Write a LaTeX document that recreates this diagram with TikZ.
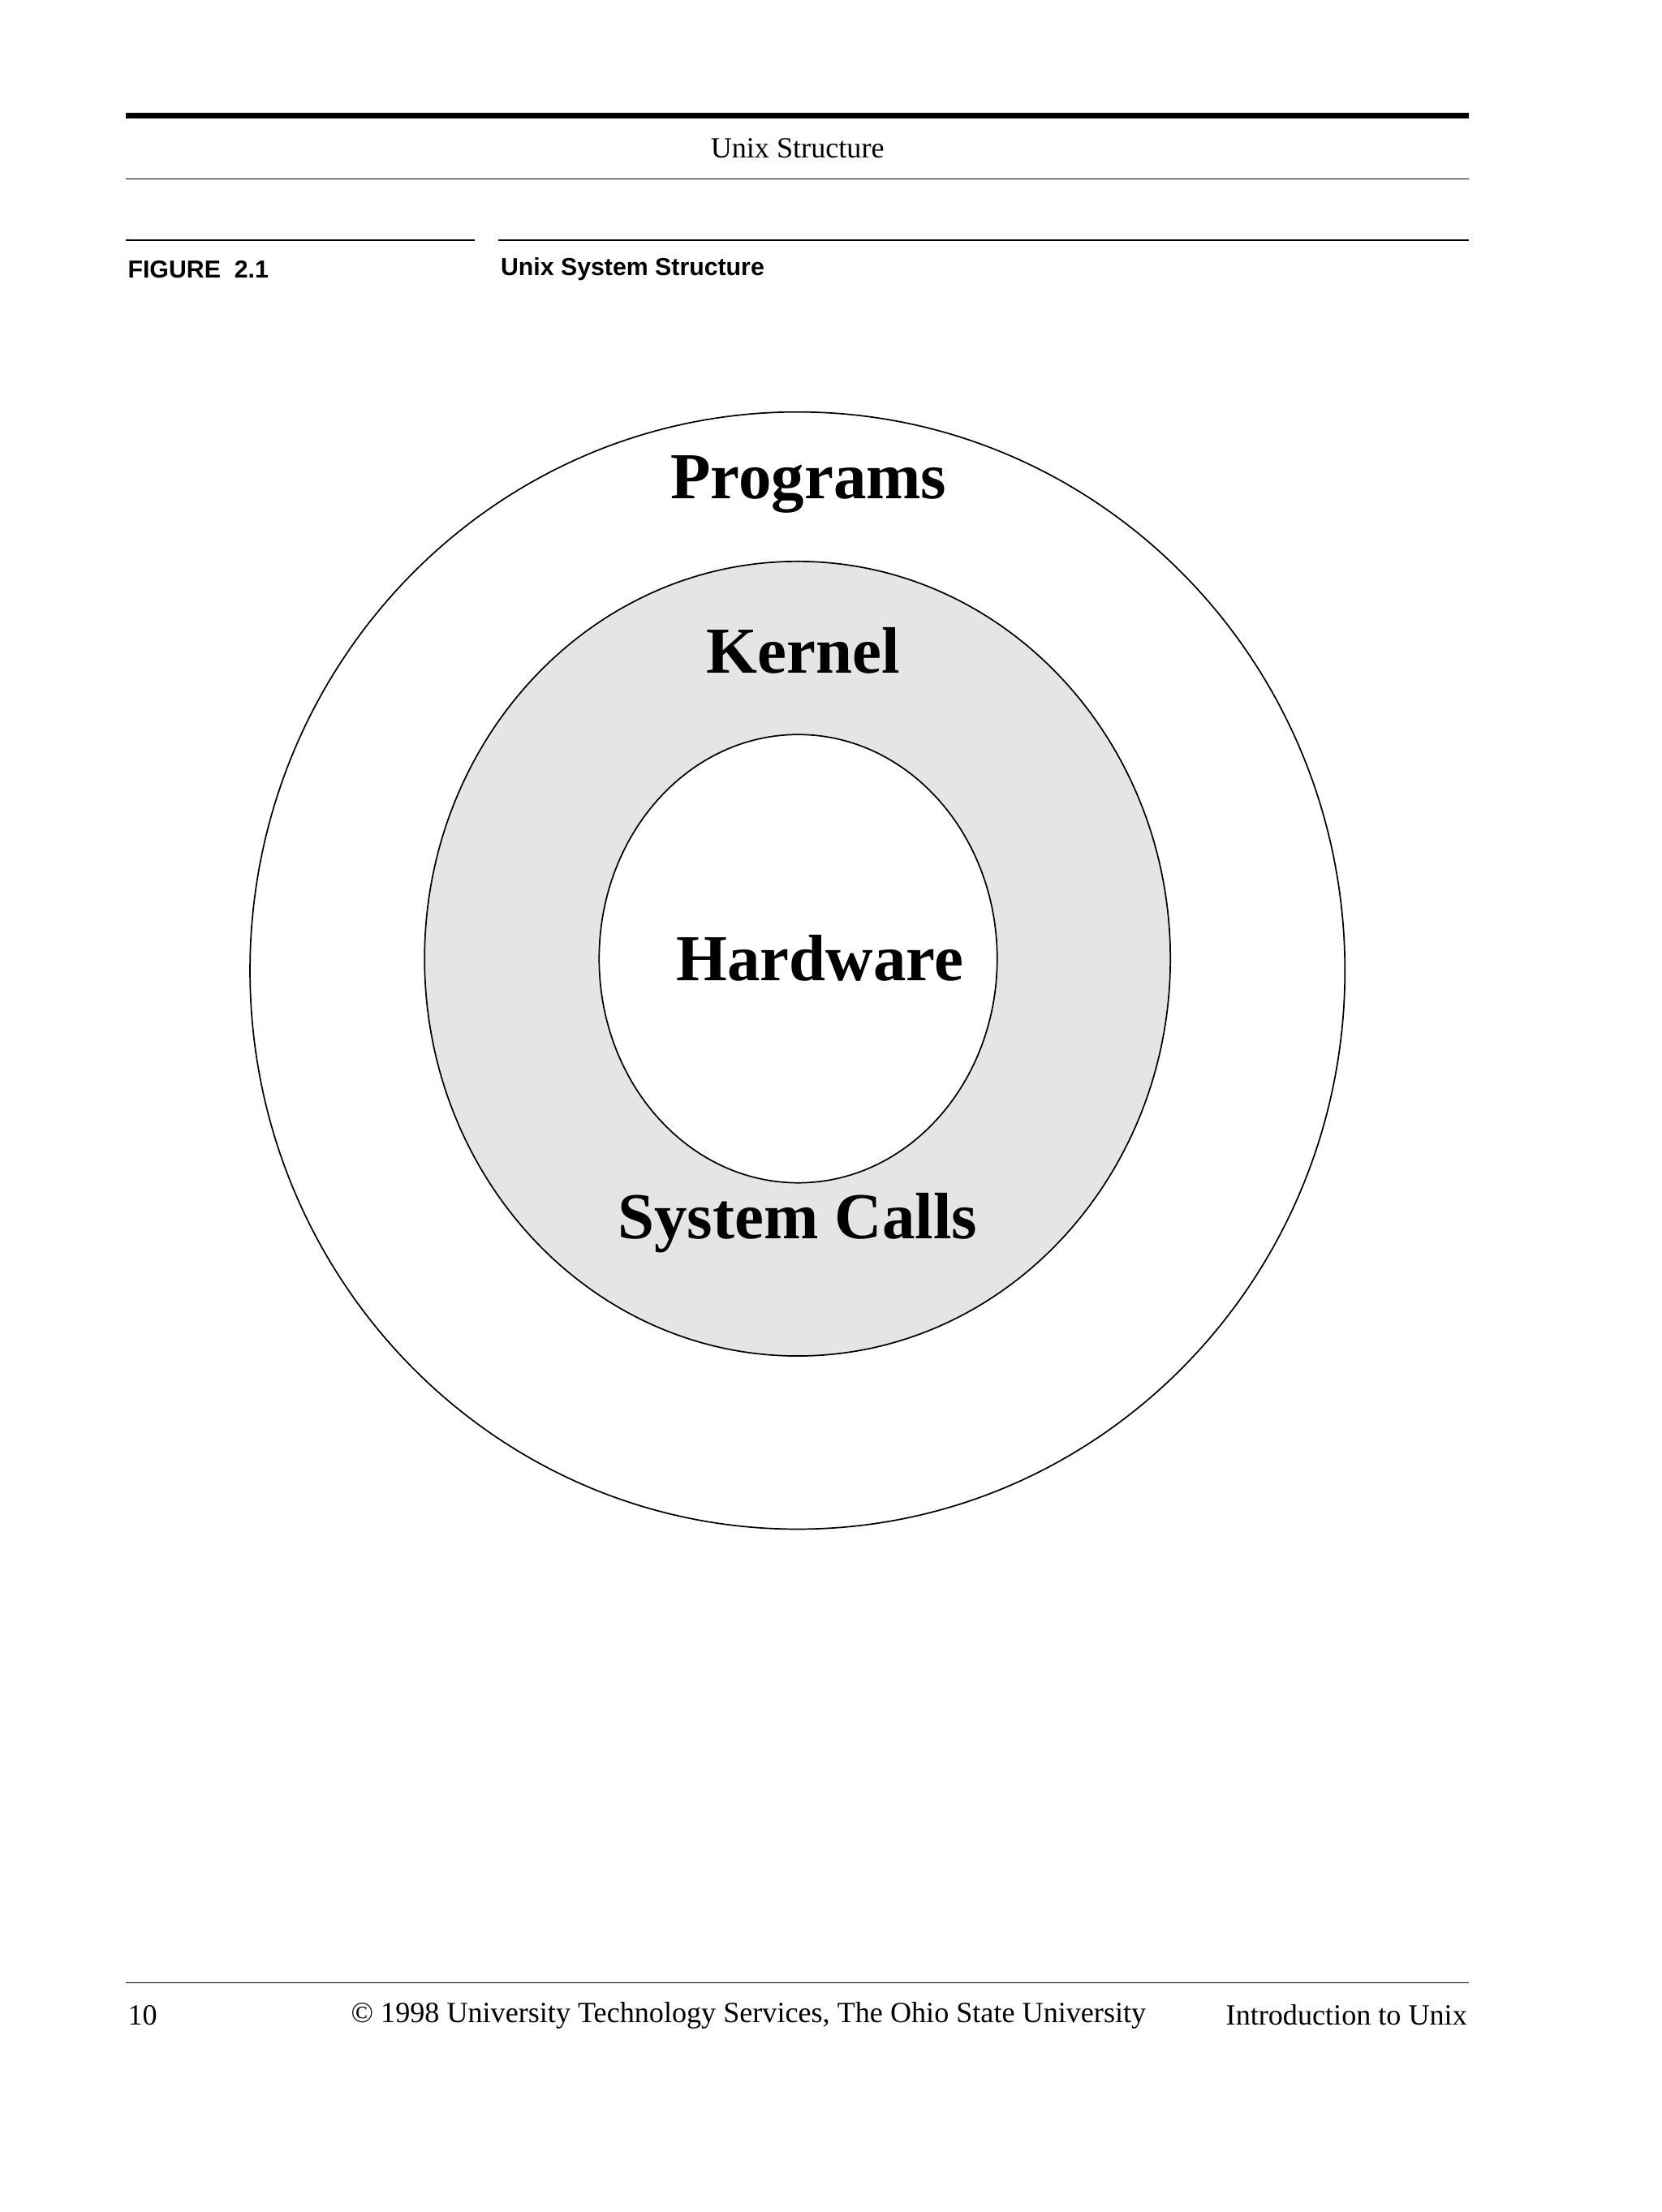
\documentclass[tikz,border=0pt]{standalone}
\usepackage{fontspec}
\setmainfont{Liberation Serif}
\setsansfont{Liberation Sans}
\begin{document}
\begin{tikzpicture}[x=1pt,y=-1pt,
  big/.style={font=\fontsize{47}{50}\selectfont\bfseries},
  foot/.style={font=\fontsize{21}{24}\selectfont},
  ring/.style={draw,line width=1pt}]
\useasboundingbox (0,0) rectangle (1190,1584);
\draw[line width=4pt] (90,83) -- (1052,83);
\node[foot] (hdr) at (571,106) {Unix Structure};
\draw[line width=0.8pt] (90,128) -- (1052,128);
\draw[line width=0.8pt] (90,172) -- (340,172);
\draw[line width=0.8pt] (357,172) -- (1052,172);
\node[anchor=west,font=\sffamily\bfseries\fontsize{17.6}{20}\selectfont] (fig) at (88,193) {FIGURE\ \ 2.1};
\node[anchor=west,font=\sffamily\bfseries\fontsize{17.6}{20}\selectfont] (cap) at (355,193) {Unix System Structure};
\draw[ring] (571,695) ellipse [x radius=392, y radius=400];
\draw[ring,fill=black!10] (571,686.5) ellipse [x radius=267, y radius=284.5];
\draw[ring,fill=white] (571.5,686.5) ellipse [x radius=142.5, y radius=160.5];
\node[big] (prog) at (579,347) {Programs};
\node[big] (kern) at (575,466) {Kernel};
\node[big] (hw) at (587,686) {Hardware};
\node[big] (sc) at (571,876) {System Calls};
\draw[line width=0.8pt] (90,1420) -- (1052,1420);
\node[foot,anchor=west] (pg) at (88,1443) {10};
\node[foot] (copy) at (536,1443) {© 1998 University Technology Services, The Ohio State University};
\node[foot,anchor=east] (intro) at (1054,1443) {Introduction to Unix};
\end{tikzpicture}
\end{document}
